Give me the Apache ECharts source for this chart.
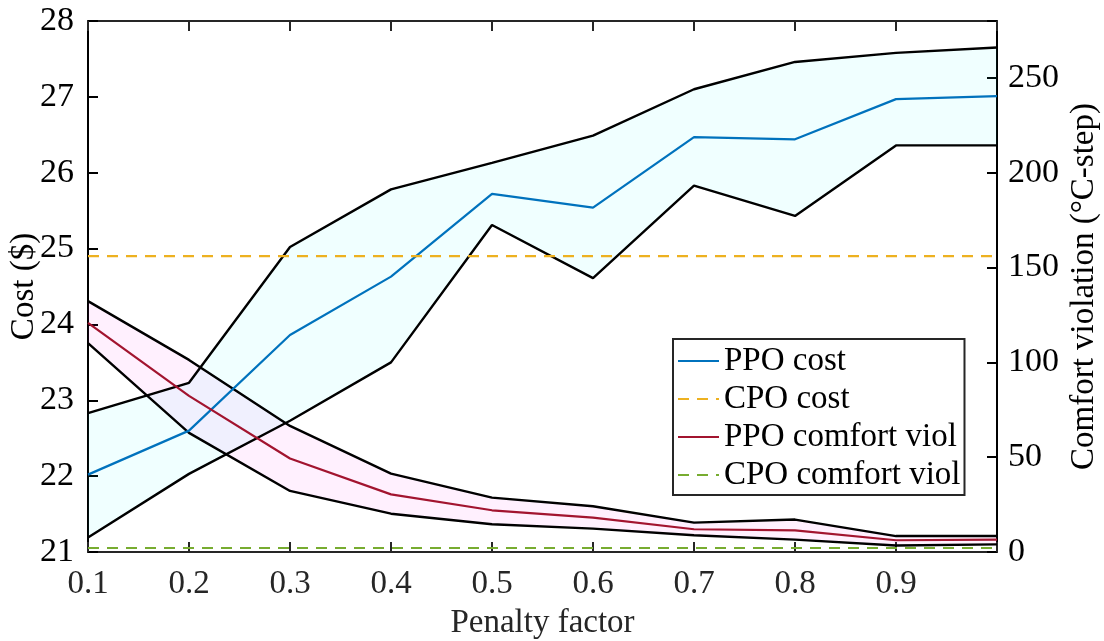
<!DOCTYPE html>
<html>
<head>
<meta charset="utf-8">
<script src="https://cdn.jsdelivr.net/npm/echarts@6/dist/echarts.min.js"></script>
<style>
  html, body { margin: 0; padding: 0; background: #fff; }
  #chart { width: 1104px; height: 641px; }
</style>
</head>
<body>
<div id="chart"></div>
<script>
// Penalty factor sweep
const penalty = [0.1, 0.2, 0.3, 0.4, 0.5, 0.6, 0.7, 0.8, 0.9, 1.0];

// Cost ($): PPO mean and spread, CPO reference
const ppoCostMean  = [22.02, 22.60, 23.86, 24.63, 25.72, 25.54, 26.47, 26.44, 26.97, 27.01];
const ppoCostUpper = [22.83, 23.23, 25.02, 25.78, 26.13, 26.49, 27.10, 27.46, 27.58, 27.65];
const ppoCostLower = [21.19, 22.03, 22.73, 23.50, 25.31, 24.61, 25.83, 25.43, 26.36, 26.36];
const cpoCost      = [24.90, 24.90, 24.90, 24.90, 24.90, 24.90, 24.90, 24.90, 24.90, 24.90];

// Comfort violation (°C-step): PPO mean and spread, CPO reference
const ppoViolMean  = [120.8, 82.3, 49.3, 30.4, 22.0, 18.1, 12.0, 11.4, 6.2, 6.5];
const ppoViolUpper = [132.3, 101.3, 66.5, 41.3, 28.7, 24.1, 15.5, 17.1, 8.4, 8.4];
const ppoViolLower = [110.1, 62.8, 32.2, 20.2, 14.6, 12.3, 8.8, 6.5, 3.4, 4.0];
const cpoViol      = [2.1, 2.1, 2.1, 2.1, 2.1, 2.1, 2.1, 2.1, 2.1, 2.1];

// Axis ticks
const costTicks = { min: 21, max: 28, step: 1 };
const violTicks = { min: 0, max: 280, step: 50 };
const penaltyTicks = { min: 0.1, max: 1.0, step: 0.1 };

const FONT = 'Liberation Serif';
const FS = 33;

const pairs = (ys) => penalty.map((x, i) => [x, ys[i]]);

// Filled polygon between an upper and a lower curve, placed through the axes
function band(name, yIdx, upper, lower, color) {
  return {
    name, type: 'custom', yAxisIndex: yIdx, silent: true, z: 1,
    data: [[penalty[0], upper[0]]],
    renderItem: (params, api) => {
      const top = penalty.map((x, i) => api.coord([x, upper[i]]));
      const bottom = penalty.map((x, i) => api.coord([x, lower[i]])).reverse();
      return {
        type: 'polygon',
        shape: { points: top.concat(bottom) },
        style: { fill: color, stroke: null }
      };
    }
  };
}
function line(name, yIdx, values, color, type, width, z) {
  return {
    name, type: 'line', yAxisIndex: yIdx, data: pairs(values),
    symbol: 'none',
    lineStyle: { color, width, type: type || 'solid' },
    itemStyle: { color }, z: z || 3
  };
}

// Inward-pointing tick marks
const tick = (color) => ({
  show: true, inside: true, length: 10, lineStyle: { color, width: 2 }
});

const chart = echarts.init(document.getElementById('chart'), null, { renderer: 'canvas' });

chart.setOption({
  animation: false,
  backgroundColor: '#fff',
  textStyle: { fontFamily: FONT },
  grid: { left: 88, right: 107, top: 21, bottom: 89, containLabel: false, outerBoundsMode: 'none' },
  legend: {
    data: ['PPO cost', 'CPO cost', 'PPO comfort viol', 'CPO comfort viol'],
    orient: 'vertical',
    left: 673, top: 339,
    itemWidth: 41, itemHeight: 14, itemGap: 0,
    padding: [3, 4, 1, 4],
    backgroundColor: '#fff',
    borderColor: '#262626', borderWidth: 2,
    itemStyle: { opacity: 0 },
    textStyle: { fontFamily: FONT, fontSize: FS, color: '#000', lineHeight: 38 },
    z: 10
  },
  xAxis: [{
    type: 'value', position: 'bottom',
    min: penaltyTicks.min, max: penaltyTicks.max, interval: penaltyTicks.step,
    name: 'Penalty factor', nameLocation: 'middle', nameGap: 55, nameMoveOverlap: false,
    nameTextStyle: { fontFamily: FONT, fontSize: FS, color: '#262626' },
    axisLine: { show: true, onZero: false, lineStyle: { color: '#262626', width: 2 } },
    axisTick: tick('#262626'),
    axisLabel: {
      fontFamily: FONT, fontSize: FS, color: '#262626', margin: 16,
      formatter: (v) => (v > 0.95 ? '' : v.toFixed(1))
    },
    splitLine: { show: false }
  }, {
    type: 'value', position: 'top',
    min: penaltyTicks.min, max: penaltyTicks.max, interval: penaltyTicks.step,
    axisLine: { show: true, onZero: false, lineStyle: { color: '#262626', width: 2 } },
    axisTick: tick('#262626'),
    axisLabel: { show: false },
    splitLine: { show: false }
  }],
  yAxis: [{
    type: 'value', position: 'left',
    min: costTicks.min, max: costTicks.max, interval: costTicks.step,
    name: 'Cost ($)', nameLocation: 'middle', nameGap: 47, nameRotate: 90, nameMoveOverlap: false,
    nameTextStyle: { fontFamily: FONT, fontSize: FS, color: '#000' },
    axisLine: { show: true, onZero: false, lineStyle: { color: '#000', width: 2 } },
    axisTick: tick('#000'),
    axisLabel: { fontFamily: FONT, fontSize: 34, color: '#000', margin: 14 },
    splitLine: { show: false }
  }, {
    type: 'value', position: 'right',
    min: violTicks.min, max: violTicks.max, interval: violTicks.step,
    name: 'Comfort violation (°C-step)', nameLocation: 'middle', nameGap: 71, nameRotate: 90,
    nameMoveOverlap: false,
    nameTextStyle: { fontFamily: FONT, fontSize: FS, color: '#000' },
    axisLine: { show: true, onZero: false, lineStyle: { color: '#000', width: 2 } },
    axisTick: tick('#000'),
    axisLabel: {
      fontFamily: FONT, fontSize: 34, color: '#000', margin: 11,
      formatter: (v) => (v > 260 ? '' : String(v))
    },
    splitLine: { show: false }
  }],
  series: [
    // shaded spreads
    band('cost spread', 0, ppoCostUpper, ppoCostLower, 'rgba(0,255,255,0.06)'),
    band('viol spread', 1, ppoViolUpper, ppoViolLower, 'rgba(255,0,230,0.06)'),
    // spread outlines
    line('cost upper', 0, ppoCostUpper, '#000', 'solid', 2.4, 2),
    line('cost lower', 0, ppoCostLower, '#000', 'solid', 2.4, 2),
    line('viol upper', 1, ppoViolUpper, '#000', 'solid', 2.4, 2),
    line('viol lower', 1, ppoViolLower, '#000', 'solid', 2.4, 2),
    // means and references
    line('PPO cost', 0, ppoCostMean, '#0072BD', 'solid', 2.2),
    line('CPO cost', 0, cpoCost, '#EDB120', [11, 8], 2.2),
    line('PPO comfort viol', 1, ppoViolMean, '#A2142F', 'solid', 2.2),
    line('CPO comfort viol', 1, cpoViol, '#77AC30', [11, 8], 2.2)
  ]
});
</script>
</body>
</html>
